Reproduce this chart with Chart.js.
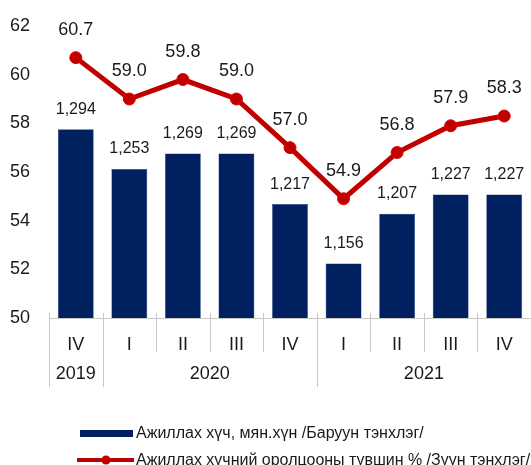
<!DOCTYPE html>
<html><head><meta charset="utf-8">
<script src="https://cdn.jsdelivr.net/npm/chart.js@4/dist/chart.umd.min.js"></script>
<style>html,body{margin:0;padding:0;background:#fff;} #wrap{width:531px;height:465px;position:relative;}</style>
</head><body><div id="wrap"><canvas id="c" width="531" height="465"></canvas></div>
<script>
const quarters = ['IV','I','II','III','IV','I','II','III','IV'];
const years = ['2019','2020','2021'];
const yearSpans = [1,4,4];
const laborForce = [1294,1253,1269,1269,1217,1156,1207,1227,1227];
const participation = [60.7,59.0,59.8,59.0,57.0,54.9,56.8,57.9,58.3];
const barLabel = 'Ажиллах хүч, мян.хүн /Баруун тэнхлэг/';
const lineLabel = 'Ажиллах хүчний оролцооны түвшин % /Зүүн тэнхлэг/';

const FONT = "'Liberation Sans', Arial, sans-serif";
const TXT = '#1a1a1a';
const NAVY = '#002060';
const RED = '#c00000';

const overlay = {
  id: 'overlay',
  afterDatasetsDraw(chart) {
    const ctx = chart.ctx;
    ctx.save();
    ctx.fillStyle = TXT;
    ctx.textAlign = 'center';
    ctx.textBaseline = 'middle';
    const bm = chart.getDatasetMeta(0);
    ctx.font = '16px ' + FONT;
    bm.data.forEach((el, i) => {
      ctx.fillText(laborForce[i].toLocaleString('en-US'), el.x, el.y - 20);
    });
    const lm = chart.getDatasetMeta(1);
    ctx.font = '18px ' + FONT;
    lm.data.forEach((el, i) => {
      ctx.fillText(participation[i].toFixed(1), el.x, el.y - 28);
    });
    ctx.restore();
  },
  afterDraw(chart) {
    const ctx = chart.ctx;
    const xs = chart.scales.x;
    const bottom = chart.chartArea.bottom;
    const half = (xs.getPixelForValue(1) - xs.getPixelForValue(0)) / 2;
    const bx = i => xs.getPixelForValue(0) - half + i * 2 * half;
    const yearBounds = [0];
    yearSpans.forEach(s => yearBounds.push(yearBounds[yearBounds.length - 1] + s));
    ctx.save();
    ctx.strokeStyle = '#c8c8c8';
    ctx.lineWidth = 1;
    for (let i = 0; i <= quarters.length; i++) {
      const x = Math.round(bx(i)) + 0.5;
      const long = yearBounds.includes(i);
      ctx.beginPath();
      ctx.moveTo(x, bottom - 5);
      ctx.lineTo(x, long ? bottom + 69 : bottom + 34);
      ctx.stroke();
    }
    ctx.fillStyle = TXT;
    ctx.font = '18px ' + FONT;
    ctx.textAlign = 'center';
    ctx.textBaseline = 'middle';
    years.forEach((y, k) => {
      const cx = (bx(yearBounds[k]) + bx(yearBounds[k + 1])) / 2;
      ctx.fillText(y, cx, bottom + 56);
    });
    // legend
    ctx.textAlign = 'left';
    ctx.font = '16px ' + FONT;
    ctx.fillStyle = NAVY;
    ctx.fillRect(80, 430, 53, 7);
    ctx.fillStyle = TXT;
    ctx.fillText(barLabel, 136, 434);
    ctx.strokeStyle = RED;
    ctx.lineWidth = 4;
    ctx.beginPath();
    ctx.moveTo(77, 460);
    ctx.lineTo(134, 460);
    ctx.stroke();
    ctx.fillStyle = RED;
    ctx.beginPath();
    ctx.arc(106, 460, 4.5, 0, Math.PI * 2);
    ctx.fill();
    ctx.fillStyle = TXT;
    ctx.fillText(lineLabel, 136, 461);
    ctx.restore();
  }
};

new Chart(document.getElementById('c'), {
  type: 'bar',
  data: {
    labels: quarters,
    datasets: [
      {
        type: 'bar', label: barLabel, data: laborForce, yAxisID: 'y1',
        backgroundColor: NAVY, borderColor: '#1f3a78', borderWidth: 0.5,
        categoryPercentage: 1, barPercentage: 0.67, order: 2
      },
      {
        type: 'line', label: lineLabel, data: participation, yAxisID: 'y',
        borderColor: RED, borderWidth: 5, pointRadius: 6, pointHoverRadius: 6,
        pointBackgroundColor: RED, pointBorderColor: '#e00000', pointBorderWidth: 1,
        tension: 0, order: 1
      }
    ]
  },
  options: {
    responsive: false,
    animation: false,
    events: [],
    layout: { autoPadding: false, padding: { top: 26, left: 0, right: 0, bottom: 0 } },
    plugins: { legend: { display: false }, tooltip: { enabled: false } },
    scales: {
      x: {
        offset: true,
        grid: { display: false },
        border: { display: true, color: '#c8c8c8', width: 1 },
        ticks: { color: TXT, font: { family: FONT, size: 18 }, padding: 8, maxRotation: 0, autoSkip: false },
        afterFit: s => { s.height = 147; }
      },
      y: {
        position: 'left', min: 50, max: 62,
        grid: { display: false },
        border: { display: false },
        ticks: { stepSize: 2, color: TXT, font: { family: FONT, size: 18 }, padding: 11 },
        afterFit: s => { s.width = 49; }
      },
      y1: { display: false, min: 1100, max: 1400 }
    }
  },
  plugins: [overlay]
});
</script></body></html>
